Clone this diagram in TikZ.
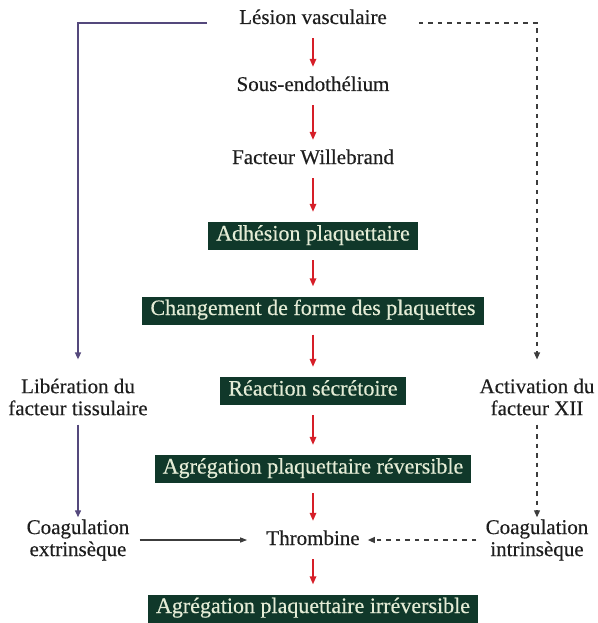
\documentclass[tikz,border=0pt]{standalone}
\usepackage{fontspec}
\setmainfont{Liberation Serif}[FakeBold=0.35]
\usetikzlibrary{arrows.meta}

\definecolor{boxgreen}{RGB}{16,56,42}
\definecolor{boxtext}{RGB}{228,236,214}
\definecolor{flowred}{RGB}{214,30,40}
\definecolor{pathviolet}{RGB}{84,72,124}
\definecolor{inkgray}{RGB}{60,60,60}
\definecolor{textblack}{RGB}{30,30,30}

\begin{document}
\begin{tikzpicture}[x=1pt,y=-1pt,
  every node/.style={font=\fontsize{21}{22}\selectfont, text=textblack},
  lbl/.style={inner sep=0pt, text height=14pt, text depth=4pt},
  twoline/.style={inner sep=0pt, align=center},
  stage/.style={fill=boxgreen, text=boxtext, inner xsep=8pt, inner ysep=4.5pt,
                text height=14pt, text depth=5pt, font=\fontsize{22}{22}\selectfont},
  flow/.style={draw=flowred, line width=1.6pt,
               -{Triangle[length=8pt,width=6.5pt]}, shorten <=10pt, shorten >=10pt},
  extr/.style={draw=pathviolet, line width=1.4pt,
               -{Triangle[length=7pt,width=6pt]}},
  intr/.style={draw=inkgray, line width=1.2pt, dash pattern=on 4.5pt off 5pt,
               -{Triangle[length=7pt,width=6pt]}},
  feed/.style={draw=inkgray, line width=1.2pt,
               -{Triangle[length=7pt,width=5pt]}}
]
\useasboundingbox (0,0) rectangle (597,623);

% central cascade
\node[lbl] (lesion) at (313,19)  {Lésion vasculaire};
\node[lbl] (sous)   at (313,86)  {Sous-endothélium};
\node[lbl] (vwf)    at (313,159) {Facteur Willebrand};
\node[stage] (adh)  at (313,236) {Adhésion plaquettaire};
\node[stage] (chg)  at (313,310.5) {Changement de forme des plaquettes};
\node[stage] (sec)  at (313,391) {Réaction sécrétoire};
\node[stage] (rev)  at (313,469) {Agrégation plaquettaire réversible};
\node[lbl] (thr)    at (313,540) {Thrombine};
\node[stage] (irr)  at (313,608.5) {Agrégation plaquettaire irréversible};

% side branches
\node[twoline] (lib)     at (78,397)  {Libération du\\facteur tissulaire};
\node[twoline] (coagext) at (78,540)  {Coagulation\\extrinsèque};
\node[twoline] (act)     at (537,397) {Activation du\\facteur XII};
\node[twoline] (coagint) at (537,540) {Coagulation\\intrinsèque};

% red steps
\draw[flow] (lesion) -- (sous);
\draw[flow] (sous) -- (vwf);
\draw[flow] (vwf) -- (adh);
\draw[flow] (adh) -- (chg);
\draw[flow] (chg) -- (sec);
\draw[flow] (sec) -- (rev);
\draw[flow] (rev) -- (thr);
\draw[flow] (thr) -- (irr);

% extrinsic pathway
\draw[extr] ([xshift=-32pt,yshift=-4pt]lesion.west) -| ([yshift=19pt]lib.north);
\draw[extr] ([yshift=-9pt]lib.south) -- ([yshift=2pt]coagext.north);
\draw[feed] ([xshift=10pt]coagext.east) -- ([xshift=-19pt]thr.west);

% intrinsic pathway
\draw[intr] ([xshift=32pt,yshift=-4pt]lesion.east) -| ([yshift=19pt]act.north);
\draw[intr] ([yshift=-9pt]act.south) -- ([yshift=2pt]coagint.north);
\draw[intr] ([xshift=-9pt]coagint.west) -- ([xshift=8pt]thr.east);
\end{tikzpicture}
\end{document}
